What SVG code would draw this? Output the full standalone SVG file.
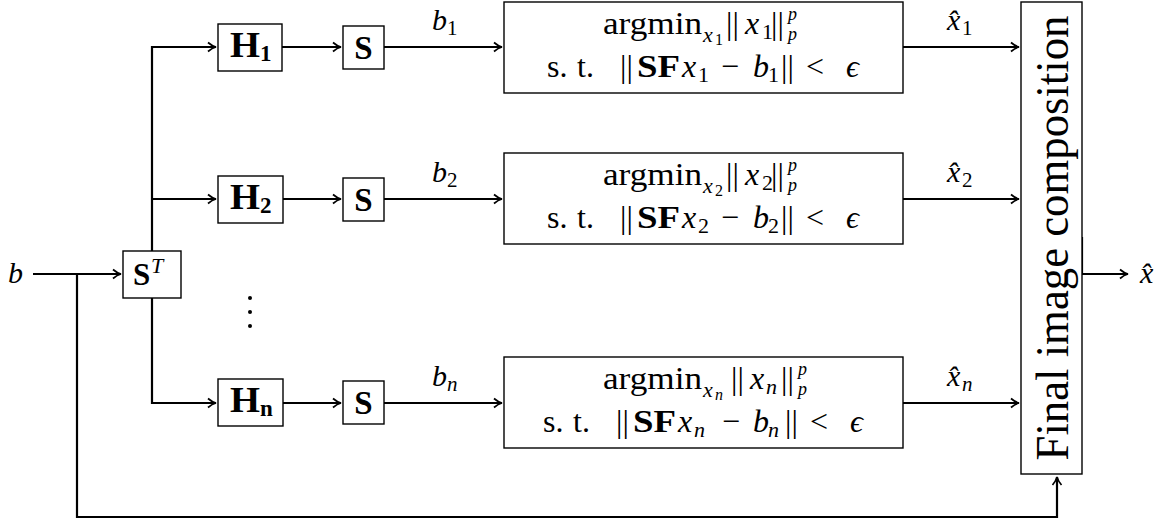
<svg xmlns="http://www.w3.org/2000/svg" width="1170" height="523" viewBox="0 0 1170 523">
<style>
.box{fill:#fff;stroke:#000;stroke-width:1.4}
.ln{fill:none;stroke:#000;stroke-width:2.2}
.t{font-family:"Liberation Serif","DejaVu Serif",serif;fill:#000}
.i{font-style:italic}
.b{font-weight:bold}
.m{font-size:32px}
.s{font-size:22px}
.ss{font-size:16px}
.p{font-size:18px;font-style:italic}
</style>
<defs>
<marker id="ar" viewBox="0 0 12 12" refX="10" refY="6" markerWidth="12" markerHeight="12" markerUnits="userSpaceOnUse" orient="auto">
<path d="M2,1.5 Q6,5 10,6 Q6,7 2,10.5" fill="none" stroke="#000" stroke-width="1.7"/>
</marker>
</defs>
<g id="connectors">
<path class="ln" d="M33,274 H121" marker-end="url(#ar)"/>
<path class="ln" d="M152,251 V47 H216" marker-end="url(#ar)"/>
<path class="ln" d="M152,199 H216" marker-end="url(#ar)"/>
<path class="ln" d="M152,298 V403 H216" marker-end="url(#ar)"/>
<path class="ln" d="M282,47 H341" marker-end="url(#ar)"/>
<path class="ln" d="M283,199 H341" marker-end="url(#ar)"/>
<path class="ln" d="M283,403 H341" marker-end="url(#ar)"/>
<path class="ln" d="M384,47 H502" marker-end="url(#ar)"/>
<path class="ln" d="M384,199 H502" marker-end="url(#ar)"/>
<path class="ln" d="M384,403 H502" marker-end="url(#ar)"/>
<path class="ln" d="M903,47 H1019" marker-end="url(#ar)"/>
<path class="ln" d="M903,199 H1019" marker-end="url(#ar)"/>
<path class="ln" d="M903,403 H1019" marker-end="url(#ar)"/>
<path class="ln" d="M77,274 V517 H1057 V477" marker-end="url(#ar)"/>
<path class="ln" d="M1082,237 V274 H1128" marker-end="url(#ar)"/>
<text class="t i" x="432" y="30" font-size="30">b</text><text class="t" x="447" y="35" font-size="21">1</text>
<text class="t i" x="432" y="182" font-size="30">b</text><text class="t" x="447" y="187" font-size="21">2</text>
<text class="t i" x="432" y="386" font-size="30">b</text><text class="t i" x="447" y="391" font-size="21">n</text>
<text class="t i" x="947" y="30" font-size="30">x̂</text><text class="t" x="962" y="35" font-size="21">1</text>
<text class="t i" x="947" y="182" font-size="30">x̂</text><text class="t" x="962" y="187" font-size="21">2</text>
<text class="t i" x="947" y="386" font-size="30">x̂</text><text class="t i" x="962" y="391" font-size="21">n</text>
<text class="t i" x="8" y="283" font-size="30">b</text>
<text class="t i" x="1140" y="283" font-size="30">x̂</text>
<circle cx="250" cy="298" r="2"/>
<circle cx="250" cy="312" r="2"/>
<circle cx="250" cy="326" r="2"/>
</g>
<g id="ST">
<rect class="box" x="123" y="251" width="58" height="47"/>
<text class="t b" x="133" y="285" font-size="31">S</text>
<text class="t i" x="151" y="273" font-size="22">T</text>
</g>
<g id="H1">
<rect class="box" x="218" y="24" width="64" height="47"/>
<text class="t b" x="230" y="57" font-size="35" textLength="30" lengthAdjust="spacingAndGlyphs">H</text>
<text class="t b" x="260" y="61" font-size="23">1</text>
</g>
<g id="H2">
<rect class="box" x="218" y="176" width="65" height="47"/>
<text class="t b" x="230" y="209" font-size="35" textLength="30" lengthAdjust="spacingAndGlyphs">H</text>
<text class="t b" x="260" y="213" font-size="23">2</text>
</g>
<g id="Hn">
<rect class="box" x="218" y="379" width="65" height="47"/>
<text class="t b" x="230" y="412" font-size="35" textLength="30" lengthAdjust="spacingAndGlyphs">H</text>
<text class="t b" x="260" y="416" font-size="23">n</text>
</g>
<g id="S1">
<rect class="box" x="343" y="26" width="41" height="43"/>
<text class="t b" x="363.5" y="59" font-size="33" text-anchor="middle">S</text>
</g>
<g id="S2">
<rect class="box" x="343" y="178" width="41" height="43"/>
<text class="t b" x="363.5" y="211" font-size="33" text-anchor="middle">S</text>
</g>
<g id="Sn">
<rect class="box" x="343" y="381" width="41" height="43"/>
<text class="t b" x="363.5" y="414" font-size="33" text-anchor="middle">S</text>
</g>
<g id="opt1">
<rect class="box" x="504" y="2" width="399" height="91"/>
<text class="t m" y="34"><tspan x="603" textLength="99" lengthAdjust="spacingAndGlyphs">argmin</tspan></text>
<text class="t s i" x="703" y="42">x</text><text class="t ss" x="715" y="45">1</text>
<text class="t m" x="726" y="34">||</text>
<text class="t m i" x="745" y="34">x</text><text class="t s" x="762" y="39">1</text>
<text class="t m" x="771" y="34">||</text>
<text class="t p" x="788" y="20">p</text><text class="t p" x="788" y="40">p</text>
<text class="t m" x="547" y="77">s.</text>
<text class="t m" x="577" y="77">t.</text>
<text class="t m" x="620" y="77">||</text>
<text class="t m b" x="637" y="77" textLength="43" lengthAdjust="spacingAndGlyphs">SF</text>
<text class="t m i" x="682" y="77">x</text><text class="t s" x="698" y="82">1</text>
<text class="t m" x="721" y="77">−</text>
<text class="t m i" x="753" y="77">b</text><text class="t s" x="768" y="82">1</text>
<text class="t m" x="781" y="77">||</text>
<text class="t m" x="806" y="77">&lt;</text>
<text class="t m i" x="846" y="77">ϵ</text>
</g>
<g id="opt2">
<rect class="box" x="504" y="153" width="399" height="91"/>
<text class="t m" y="185"><tspan x="603" textLength="99" lengthAdjust="spacingAndGlyphs">argmin</tspan></text>
<text class="t s i" x="703" y="193">x</text><text class="t ss" x="715" y="196">2</text>
<text class="t m" x="726" y="185">||</text>
<text class="t m i" x="745" y="185">x</text><text class="t s" x="762" y="190">2</text>
<text class="t m" x="771" y="185">||</text>
<text class="t p" x="788" y="171">p</text><text class="t p" x="788" y="191">p</text>
<text class="t m" x="547" y="228">s.</text>
<text class="t m" x="577" y="228">t.</text>
<text class="t m" x="620" y="228">||</text>
<text class="t m b" x="637" y="228" textLength="43" lengthAdjust="spacingAndGlyphs">SF</text>
<text class="t m i" x="682" y="228">x</text><text class="t s" x="698" y="233">2</text>
<text class="t m" x="721" y="228">−</text>
<text class="t m i" x="753" y="228">b</text><text class="t s" x="768" y="233">2</text>
<text class="t m" x="781" y="228">||</text>
<text class="t m" x="806" y="228">&lt;</text>
<text class="t m i" x="846" y="228">ϵ</text>
</g>
<g id="optn">
<rect class="box" x="504" y="357" width="399" height="91"/>
<text class="t m" y="389"><tspan x="603" textLength="99" lengthAdjust="spacingAndGlyphs">argmin</tspan></text>
<text class="t s i" x="703" y="397">x</text><text class="t ss i" x="715" y="400">n</text>
<text class="t m" x="731" y="389">||</text>
<text class="t m i" x="750" y="389">x</text><text class="t s i" x="766" y="394">n</text>
<text class="t m" x="781" y="389">||</text>
<text class="t p" x="798" y="375">p</text><text class="t p" x="798" y="395">p</text>
<text class="t m" x="543" y="432">s.</text>
<text class="t m" x="573" y="432">t.</text>
<text class="t m" x="616" y="432">||</text>
<text class="t m b" x="633" y="432" textLength="43" lengthAdjust="spacingAndGlyphs">SF</text>
<text class="t m i" x="678" y="432">x</text><text class="t s i" x="694" y="437">n</text>
<text class="t m" x="722" y="432">−</text>
<text class="t m i" x="753" y="432">b</text><text class="t s i" x="768" y="437">n</text>
<text class="t m" x="785" y="432">||</text>
<text class="t m" x="810" y="432">&lt;</text>
<text class="t m i" x="850" y="432">ϵ</text>
</g>
<g id="final">
<rect class="box" x="1021" y="2" width="61" height="472"/>
<text class="t" transform="translate(1068,238) rotate(-90)" font-size="46" text-anchor="middle" textLength="445" lengthAdjust="spacingAndGlyphs">Final image composition</text>
</g>
</svg>
